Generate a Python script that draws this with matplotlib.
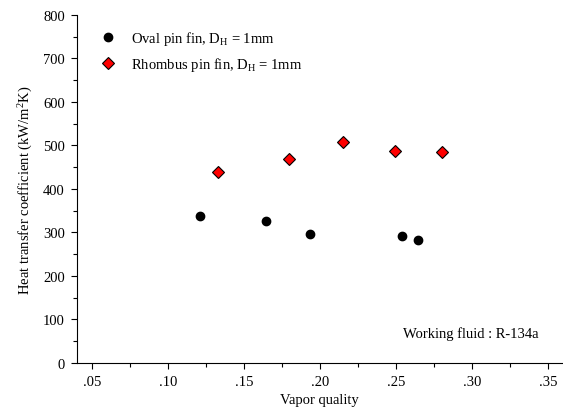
import matplotlib
matplotlib.use("Agg")
import matplotlib.pyplot as plt
from matplotlib.ticker import MultipleLocator, FuncFormatter

plt.rcParams['font.family'] = ['Liberation Serif', 'DejaVu Serif']
plt.rcParams['mathtext.fontset'] = 'custom'
plt.rcParams['mathtext.rm'] = 'Liberation Serif'
plt.rcParams['mathtext.it'] = 'Liberation Serif'

oval_x = [0.1207, 0.1645, 0.1934, 0.2536, 0.2647]
oval_y = [337, 325, 297, 292, 283]
rhombus_x = [0.1325, 0.1794, 0.2150, 0.2490, 0.2799]
rhombus_y = [439, 468, 508, 487, 485]

fig = plt.figure(figsize=(5.63, 4.14), dpi=100)
ax = fig.add_axes([0.1362, 0.1215, 0.9977 - 0.1362, 0.9614 - 0.1215])

ax.plot(oval_x, oval_y, linestyle='none', marker='o', markersize=6,
        color='black', label=r'Oval pin fin, D$_\mathrm{H}$ = 1mm')
ax.plot(rhombus_x, rhombus_y, linestyle='none', marker='D', markersize=6,
        markerfacecolor='red', markeredgecolor='black', markeredgewidth=0.8,
        label=r'Rhombus pin fin, D$_\mathrm{H}$ = 1mm')

ax.set_xlim(0.0397, 0.359)
ax.set_ylim(0, 800)
ax.xaxis.set_major_locator(MultipleLocator(0.05))
ax.xaxis.set_minor_locator(MultipleLocator(0.025))
ax.yaxis.set_major_locator(MultipleLocator(100))
ax.yaxis.set_minor_locator(MultipleLocator(50))
ax.xaxis.set_major_formatter(FuncFormatter(lambda v, p: ('%.2f' % v)[1:] if v < 1 else '%.2f' % v))

for s in ['top', 'right']:
    ax.spines[s].set_visible(False)
for s in ['left', 'bottom']:
    ax.spines[s].set_linewidth(0.8)
ax.tick_params(which='both', direction='out', width=0.8, labelsize=10.5)
ax.tick_params(which='major', length=4, pad=4.5)
ax.tick_params(which='minor', length=3)

ax.set_xlabel('Vapor quality', fontsize=10.5, labelpad=4)
ax.set_ylabel(r'Heat transfer coefficient (kW/m$^2$K)', fontsize=10.5, labelpad=6)

ax.legend(loc='upper left', bbox_to_anchor=(0.022, 0.997), frameon=False,
          fontsize=10.5, handletextpad=1.1, labelspacing=0.55, handlelength=1.0)

ax.text(0.952, 0.085, 'Working fluid : R-134a', transform=ax.transAxes,
        ha='right', va='center', fontsize=10.5)

fig.savefig('out.png', dpi=100)
